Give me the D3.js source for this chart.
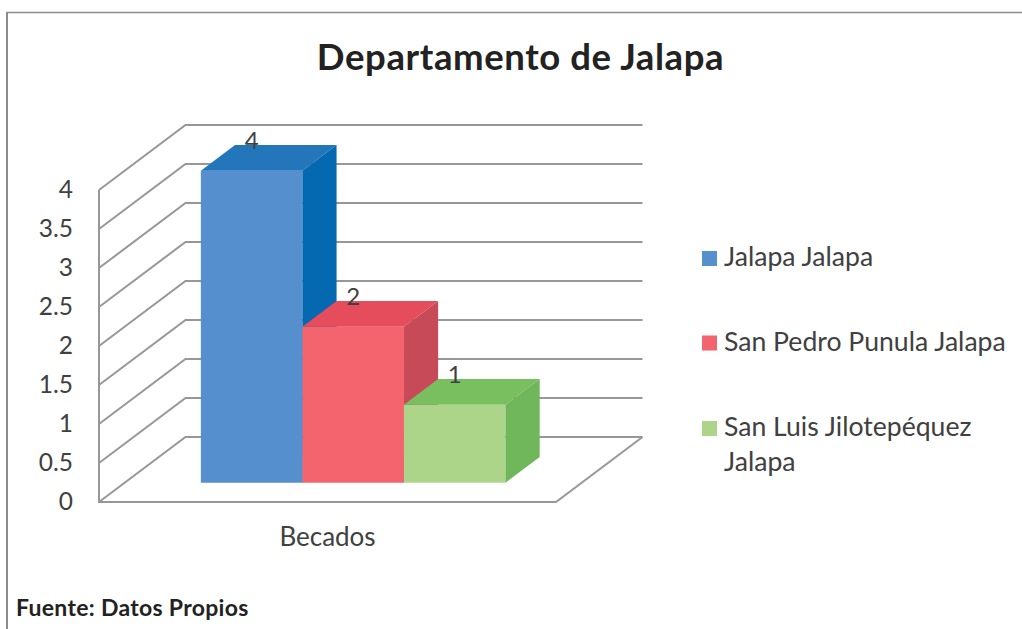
<!DOCTYPE html>
<html>
<head>
<meta charset="utf-8">
<script src="https://d3js.org/d3.v7.min.js"></script>
<style>
	html, body { margin: 0; padding: 0; background: #fff; overflow: hidden; }
	text { font-family: Lato, "Open Sans", sans-serif; fill: #404040; }
</style>
</head>
<body>
<script>
// chart data
var categories = ["Becados"];
var seriesNames = ["Jalapa Jalapa", "San Pedro Punula Jalapa", "San Luis Jilotepéquez Jalapa"];
var seriesValues = [4, 2, 1];
var yTicks = [0, 0.5, 1, 1.5, 2, 2.5, 3, 3.5, 4];

// colours per series: front, top, side
var frontColors = ["#558fce", "#f4646f", "#acd58a"];
var topColors = ["#2476bb", "#e54c5c", "#79bf60"];
var sideColors = ["#0569b1", "#c64a57", "#70b65a"];

var svg = d3.select("body")
			.append("svg")
			.attr("width", 1022)
			.attr("height", 629);

// frame around the picture
svg.append("line")
	.attr("x1", 7).attr("x2", 7)
	.attr("y1", 12).attr("y2", 629)
	.attr("stroke", "#8c8c8c")
	.attr("stroke-width", 2);

svg.append("line")
	.attr("x1", 6).attr("x2", 1022)
	.attr("y1", 12.5).attr("y2", 12.5)
	.attr("stroke", "#8c8c8c")
	.attr("stroke-width", 1.5);

// front plane scales
var xScale = d3.scaleBand()
				.domain(categories)
				.range([99, 556]);

var xInner = d3.scaleBand()
				.domain(seriesNames)
				.range([xScale(categories[0]), xScale(categories[0]) + xScale.bandwidth()])
				.paddingOuter(0.75);

var yScale = d3.scaleLinear()
				.domain([0, 4])
				.range([502, 190]);

// depth of the 3d box, 0 is front and 1 is back wall
var depthX = 86.5;
var depthY = -65;
var barFront = 0.297;
var barBack = 0.692;

function project(x, value, depth) {
	return [x + depth * depthX, yScale(value) + depth * depthY];
}

function polygon(points) {
	return points.map(function(p){ return p.join(","); }).join(" ");
}

// walls and floor
var grid = svg.append("g")
				.attr("fill", "none")
				.attr("stroke", "#979797")
				.attr("stroke-width", 2);

yTicks.forEach(function(t){
	var a = project(99, t, 0);
	var b = project(99, t, 1);
	var c = project(556, t, 1);
	grid.append("polyline").attr("points", polygon([a, b, c]));
});

grid.append("polyline")
	.attr("points", polygon([project(99, 4, 0), project(99, 0, 0), project(556, 0, 0), project(556, 0, 1)]));

// bars, left to right so each one covers the side of the one before
seriesNames.forEach(function(name, i){
	var x0 = xInner(name);
	var x1 = x0 + xInner.bandwidth();
	var v = seriesValues[i];
	var bar = svg.append("g");

	bar.append("polygon")
		.attr("points", polygon([project(x0, 0, barFront), project(x1, 0, barFront), project(x1, v, barFront), project(x0, v, barFront)]))
		.attr("fill", frontColors[i]);

	bar.append("polygon")
		.attr("points", polygon([project(x0, v, barFront), project(x1, v, barFront), project(x1, v, barBack), project(x0, v, barBack)]))
		.attr("fill", topColors[i]);

	bar.append("polygon")
		.attr("points", polygon([project(x1, 0, barFront), project(x1, 0, barBack), project(x1, v, barBack), project(x1, v, barFront)]))
		.attr("fill", sideColors[i]);
});

// value labels
seriesNames.forEach(function(name, i){
	var p = project(xInner(name) + xInner.bandwidth() / 2, seriesValues[i], barFront);
	svg.append("text")
		.attr("x", p[0])
		.attr("y", p[1] - 22)
		.style("text-anchor", "middle")
		.style("font-size", "24px")
		.text(seriesValues[i]);
});

// y axis labels
var yAxis = svg.append("g")
				.attr("transform", "translate(85,0)")
				.call(d3.axisLeft(yScale).tickValues(yTicks).tickSize(0).tickPadding(12).tickFormat(d3.format("")));

yAxis.select(".domain").remove();
yAxis.selectAll("text")
	.attr("fill", null)
	.style("font-family", "Lato")
	.style("font-size", "24.5px");

// category label
svg.append("text")
	.attr("x", xScale(categories[0]) + xScale.bandwidth() / 2)
	.attr("y", 546)
	.style("text-anchor", "middle")
	.style("font-size", "26px")
	.text(categories[0]);

// title
svg.append("text")
	.attr("x", 520.5)
	.attr("y", 70)
	.style("text-anchor", "middle")
	.style("font-size", "36.5px")
	.style("letter-spacing", "0.6px")
	.style("font-weight", "bold")
	.style("fill", "#222")
	.text("Departamento de Jalapa");

// legend
var legendLines = [["Jalapa Jalapa"], ["San Pedro Punula Jalapa"], ["San Luis Jilotepéquez", "Jalapa"]];
var legendY = [258.5, 343, 428.5];

seriesNames.forEach(function(name, i){
	svg.append("rect")
		.attr("x", 702)
		.attr("y", legendY[i] - 7.5)
		.attr("width", 15)
		.attr("height", 15)
		.attr("fill", frontColors[i]);

	legendLines[i].forEach(function(line, j){
		svg.append("text")
			.attr("x", 724)
			.attr("y", legendY[i] + 7.5 + j * 35)
			.style("font-size", "26.6px")
			.text(line);
	});
});

// source note
svg.append("text")
	.attr("x", 16)
	.attr("y", 616)
	.style("font-size", "23px")
	.style("letter-spacing", "0.3px")
	.style("font-weight", "bold")
	.style("fill", "#222")
	.text("Fuente: Datos Propios");
</script>
</body>
</html>
